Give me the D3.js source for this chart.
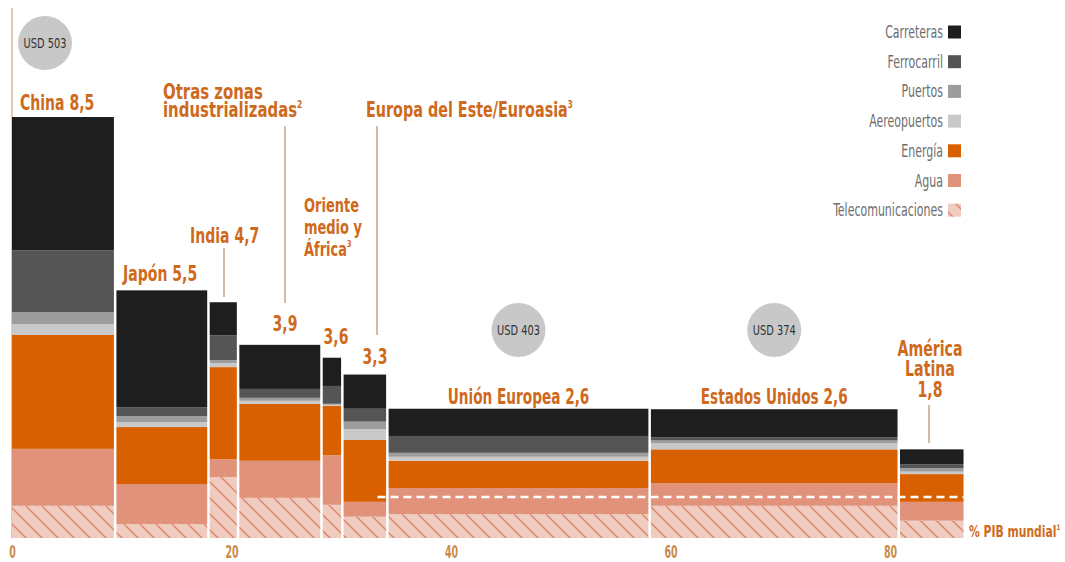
<!DOCTYPE html>
<html lang="es">
<head>
<meta charset="UTF-8">
<title>Inversión en infraestructura por región</title>
<script src="https://d3js.org/d3.v7.min.js"></script>
<style>
  body { margin: 0; background: #fff; }
  svg { display: block; }
  text { font-family: "DejaVu Sans Condensed", "DejaVu Sans", sans-serif; }
  .lbl { font-weight: bold; fill: #cf6a1c; }
  .leg { fill: #6e6e6e; font-size: 18px; }
  .usd { fill: #333; font-size: 14px; }
  .tick text { font-weight: bold; fill: #c98a4a; font-size: 17px; }
</style>
</head>
<body>
<svg id="chart" width="1065" height="562"></svg>
<script>
// regiones, ancho = % del PIB mundial
const regions = ["China", "Japón", "India", "Otras zonas industrializadas", "Oriente medio y África",
                 "Europa del Este/Euroasia", "Unión Europea", "Estados Unidos", "América Latina"];
const gdpShare = [9.4, 8.5, 2.7, 7.6, 1.9, 4.1, 23.9, 22.7, 5.9];

// inversión en % del PIB por sector
const carreteras   = [2.69, 2.36, 0.67, 0.89, 0.57, 0.69, 0.55, 0.57, 0.30];
const ferrocarril  = [1.25, 0.18, 0.50, 0.18, 0.36, 0.26, 0.34, 0.06, 0.08];
const puertos      = [0.24, 0.12, 0.06, 0.06, 0.02, 0.15, 0.08, 0.06, 0.07];
const aeropuertos  = [0.22, 0.10, 0.08, 0.06, 0.02, 0.22, 0.08, 0.12, 0.05];
const energia      = [2.30, 1.15, 1.86, 1.15, 1.00, 1.25, 0.55, 0.68, 0.56];
const agua         = [1.15, 0.81, 0.36, 0.75, 1.00, 0.30, 0.53, 0.46, 0.38];
const telecom      = [0.65, 0.28, 1.23, 0.81, 0.67, 0.43, 0.48, 0.65, 0.35];

const totalLabels = ["8,5", "5,5", "4,7", "3,9", "3,6", "3,3", "2,6", "2,6", "1,8"];
const usdLabels = [["USD 503", 0], ["USD 403", 6], ["USD 374", 7]];
const avgLine = 0.83;       // línea discontinua
const avgLineStart = 33.3;  // % PIB mundial donde empieza
const xTicks = [0, 20, 40, 60, 80];

const sectors = ["Carreteras", "Ferrocarril", "Puertos", "Aereopuertos", "Energía", "Agua", "Telecomunicaciones"];
const sectorValues = [carreteras, ferrocarril, puertos, aeropuertos, energia, agua, telecom];
const colors = ["#1e1e1e", "#555555", "#9d9d9d", "#c9c9c9", "#d96000", "#e0937a", "url(#hatch)"];

const svg = d3.select("#chart");
const x = d3.scaleLinear().domain([0, 80]).range([12, 890]);
const y = d3.scaleLinear().domain([0, 8.5]).range([538, 117]);

// hatch pattern for telecom
const defs = svg.append("defs");
const pat = defs.append("pattern")
    .attr("id", "hatch").attr("patternUnits", "userSpaceOnUse")
    .attr("width", 16).attr("height", 16);
pat.append("rect").attr("width", 16).attr("height", 16).attr("fill", "#f0cbbf");
pat.append("path").attr("d", "M-4,-4 L20,20 M-4,12 L4,20 M12,-4 L20,4")
    .attr("stroke", "#d8876a").attr("stroke-width", 1.4);

// build rows
let cum = 0;
const rows = regions.map((r, i) => {
    const row = { region: r, x0: cum, x1: cum + gdpShare[i] };
    cum += gdpShare[i];
    sectors.forEach((s, k) => row[s] = sectorValues[k][i]);
    return row;
});
const total = r => d3.sum(sectors, s => r[s]);

// stack bottom-up: telecom first, carreteras on top
const keys = sectors.slice().reverse();
const stacked = d3.stack().keys(keys)(rows);

// left axis line
svg.append("line").attr("x1", x(0)).attr("x2", x(0)).attr("y1", 8).attr("y2", y(0))
    .attr("stroke", "#d9b999").attr("stroke-width", 1.5);

svg.append("g").selectAll("g")
    .data(stacked).join("g")
    .attr("fill", d => colors[sectors.indexOf(d.key)])
    .selectAll("rect")
    .data(d => d).join("rect")
    .attr("x", d => x(d.data.x0))
    .attr("width", d => x(d.data.x1) - x(d.data.x0))
    .attr("y", d => y(d[1]))
    .attr("height", d => y(d[0]) - y(d[1]));

// white separators between bars
svg.append("g").selectAll("line")
    .data(rows.slice(1)).join("line")
    .attr("x1", d => x(d.x0)).attr("x2", d => x(d.x0))
    .attr("y1", (d, i) => y(Math.max(total(rows[i]), total(d))) - 1)
    .attr("y2", y(0))
    .attr("stroke", "#fff").attr("stroke-width", 2.5);

// dashed reference line
svg.append("line")
    .attr("x1", x(avgLineStart)).attr("x2", x(cum))
    .attr("y1", y(avgLine)).attr("y2", y(avgLine))
    .attr("stroke", "#fff").attr("stroke-width", 2.5).attr("stroke-dasharray", "8,5");

// x axis
const xAxis = svg.append("g").attr("transform", `translate(0,${y(0)})`)
    .call(d3.axisBottom(x).tickValues(xTicks).tickSize(0).tickPadding(8));
xAxis.select(".domain").remove();
xAxis.selectAll(".tick text").attr("transform", "scale(0.62,1)");

// condensed text helper: horizontal squeeze around anchor point
function ctext(str, px, py, cls, size, sx, anchor, sup) {
    const g = svg.append("g").attr("transform", `translate(${px},${py}) scale(${sx},1)`);
    const t = g.append("text").attr("class", cls).attr("font-size", size)
        .attr("text-anchor", anchor || "start").text(str);
    if (sup) t.append("tspan").attr("font-size", size * 0.5).attr("dy", -size * 0.45).text(sup);
    return t;
}

// USD circles
usdLabels.forEach((d, i) => {
    const cx = i === 0 ? 45 : x((rows[d[1]].x0 + rows[d[1]].x1) / 2);
    const cy = i === 0 ? 43 : 330;
    svg.append("circle").attr("cx", cx).attr("cy", cy).attr("r", 27).attr("fill", "#c8c8c8");
    ctext(d[0], cx, cy + 5, "usd", 14, 0.78, "middle");
});

// leader lines
const leaders = [[224, 248, 297], [285, 126, 303], [377, 126, 335], [929, 405, 443]];
svg.append("g").selectAll("line").data(leaders).join("line")
    .attr("x1", d => d[0]).attr("x2", d => d[0]).attr("y1", d => d[1]).attr("y2", d => d[2])
    .attr("stroke", "#c9a27e").attr("stroke-width", 1.5);

// region labels
const mid = i => x((rows[i].x0 + rows[i].x1) / 2);
ctext("China " + totalLabels[0], 20, 110, "lbl", 22, 0.71);
ctext("Otras zonas", 163, 99, "lbl", 21, 0.79);
ctext("industrializadas", 163, 117, "lbl", 21, 0.79, "start", "2");
ctext("Europa del Este/Euroasia", 366, 117, "lbl", 21, 0.76, "start", "3");
ctext("India " + totalLabels[2], 190, 243, "lbl", 22, 0.71);
ctext("Oriente", 304, 212, "lbl", 19, 0.76);
ctext("medio y", 304, 234, "lbl", 19, 0.76);
ctext("África", 304, 256, "lbl", 19, 0.76, "start", "3");
ctext("Japón " + totalLabels[1], 123, 281, "lbl", 22, 0.71);
ctext(totalLabels[3], 285, 331, "lbl", 22, 0.71, "middle");
ctext(totalLabels[4], 336, 344, "lbl", 22, 0.71, "middle");
ctext(totalLabels[5], 375, 364, "lbl", 22, 0.71, "middle");
ctext("Unión Europea " + totalLabels[6], mid(6), 404, "lbl", 22, 0.69, "middle");
ctext("Estados Unidos " + totalLabels[7], mid(7), 404, "lbl", 22, 0.69, "middle");
ctext("América", 930, 356, "lbl", 21, 0.75, "middle");
ctext("Latina", 930, 376, "lbl", 21, 0.75, "middle");
ctext(totalLabels[8], 930, 397, "lbl", 21, 0.75, "middle");
ctext("% PIB mundial", 969, 537, "lbl", 15, 0.8, "start", "1");

// legend
sectors.forEach((s, i) => {
    const ly = 32 + i * 29.7;
    svg.append("rect").attr("x", 948).attr("y", ly - 6.5).attr("width", 13).attr("height", 13)
        .attr("fill", colors[i]);
    ctext(s, 943, ly + 6, "leg", 18, 0.68, "end");
});
</script>
</body>
</html>
